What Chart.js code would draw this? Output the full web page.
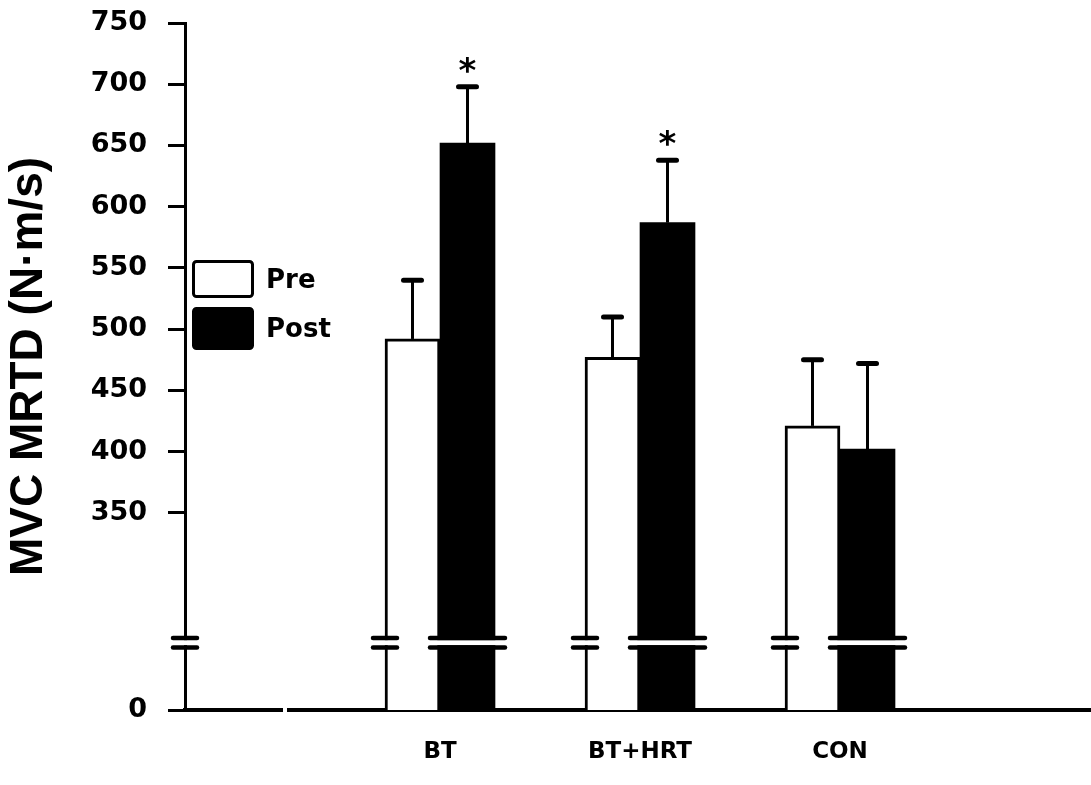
<!DOCTYPE html>
<html>
<head>
<meta charset="utf-8">
<script src="https://cdn.jsdelivr.net/npm/chart.js@4.4.1/dist/chart.umd.min.js"></script>
<style>
  html, body { margin: 0; padding: 0; background: #fff; }
  #wrap { width: 1091px; height: 785px; }
</style>
</head>
<body>
<div id="wrap"><canvas id="chart"></canvas></div>
<script>
const groups = ['BT', 'BT+HRT', 'CON'];
const preMean = [492, 477, 421];
const preSE = [48, 33, 54];
const postMean = [652, 587, 402];
const postSE = [46, 51, 70];
const postMark = ['*', '*', ''];
const yTicks = [0, 350, 400, 450, 500, 550, 600, 650, 700, 750];

// broken axis: everything below 350 is squeezed into a short segment
const AXIS_FLOOR = 189;
const BREAK_AT = 244;
function toAxis(v) {
  return v >= 350 ? v : AXIS_FLOOR + v * (350 - AXIS_FLOOR) / 350;
}

Chart.defaults.font.family = 'DejaVu Sans';
Chart.defaults.font.weight = 'bold';
Chart.defaults.color = '#000';

const extras = {
  id: 'extras',
  afterDatasetsDraw(chart) {
    const { ctx, scales: { x, y } } = chart;
    ctx.save();
    ctx.strokeStyle = '#000';

    // error bars (upper only) and significance marks
    [[0, preSE], [1, postSE]].forEach(([di, se]) => {
      chart.getDatasetMeta(di).data.forEach((bar, i) => {
        const mean = chart.data.datasets[di].data[i].y[1];
        const top = y.getPixelForValue(mean + se[i]);
        ctx.lineCap = 'butt';
        ctx.lineWidth = 3;
        ctx.beginPath();
        ctx.moveTo(bar.x, bar.y);
        ctx.lineTo(bar.x, top);
        ctx.stroke();
        ctx.lineCap = 'round';
        ctx.lineWidth = 5;
        ctx.beginPath();
        ctx.moveTo(bar.x - 9, top);
        ctx.lineTo(bar.x + 9, top);
        ctx.stroke();
        if (di === 1 && postMark[i]) {
          ctx.fillStyle = '#000';
          ctx.font = 'bold 34px "DejaVu Sans"';
          ctx.textAlign = 'center';
          ctx.textBaseline = 'alphabetic';
          ctx.fillText(postMark[i], bar.x, top - 5);
        }
      });
    });

    // break marks
    const by = y.getPixelForValue(BREAK_AT);
    const pair = (x0, x1) => {
      ctx.fillStyle = '#fff';
      ctx.fillRect(x0, by - 2.5, x1 - x0, 5);
      ctx.lineCap = 'round';
      ctx.lineWidth = 4.5;
      [-4.75, 4.75].forEach(d => {
        ctx.beginPath();
        ctx.moveTo(x0, by + d);
        ctx.lineTo(x1, by + d);
        ctx.stroke();
      });
    };
    pair(x.left - 12, x.left + 12);
    chart.getDatasetMeta(0).data.forEach(b => {
      const l = b.x - b.width / 2;
      pair(l - 12, l + 12);
    });
    chart.getDatasetMeta(1).data.forEach(b => {
      pair(b.x - b.width / 2 - 10, b.x + b.width / 2 + 10);
    });
    ctx.restore();
  },
  afterDraw(chart) {
    const { ctx, scales: { x } } = chart;
    ctx.save();
    // small gap in the x axis line
    const gx = x.getPixelForValue(0.225);
    ctx.fillStyle = '#fff';
    ctx.fillRect(gx - 2, x.top - 5, 4, 10);

    // legend
    const lx = 192, ly = 260;
    chart.data.datasets.forEach((ds, i) => {
      const top = ly + i * 47;
      ctx.beginPath();
      ctx.roundRect(lx + 1.5, top + 1.5, 59, i ? 40 : 35, 3);
      ctx.fillStyle = ds.backgroundColor;
      ctx.fill();
      ctx.lineWidth = 3;
      ctx.strokeStyle = '#000';
      ctx.stroke();
      ctx.fillStyle = '#000';
      ctx.font = 'bold 26px "DejaVu Sans"';
      ctx.textAlign = 'left';
      ctx.textBaseline = 'middle';
      ctx.fillText(ds.label, lx + 74, top + (i ? 23 : 21));
    });
    ctx.restore();
  }
};

new Chart(document.getElementById('chart'), {
  type: 'bar',
  data: {
    datasets: [
      {
        label: 'Pre',
        data: groups.map((g, i) => ({ x: i + 1, y: [toAxis(0), preMean[i]] })),
        backgroundColor: '#fff',
        borderColor: '#000',
        borderWidth: 3,
        borderSkipped: 'start'
      },
      {
        label: 'Post',
        data: groups.map((g, i) => ({ x: i + 1, y: [toAxis(0), postMean[i]] })),
        backgroundColor: '#000',
        borderColor: '#000',
        borderWidth: 0
      }
    ]
  },
  options: {
    responsive: true,
    maintainAspectRatio: false,
    animation: false,
    barThickness: 55,
    layout: { padding: { top: 23, right: 0, bottom: 0, left: 0 } },
    plugins: { legend: { display: false }, tooltip: { enabled: false } },
    scales: {
      x: {
        type: 'linear',
        min: -0.275,
        max: 4.255,
        offset: false,
        z: 1,
        afterBuildTicks: s => { s.ticks = groups.map((g, i) => ({ value: i + 1 })); },
        afterFit: s => { s.height = 75; },
        ticks: {
          callback: v => groups[v - 1] || '',
          font: { size: 23, weight: 'bold' },
          padding: 28,
          autoSkip: false,
          maxRotation: 0
        },
        grid: { display: false, drawTicks: false },
        border: { display: true, color: '#000', width: 4 }
      },
      y: {
        min: AXIS_FLOOR,
        max: 750,
        afterBuildTicks: s => { s.ticks = yTicks.map(v => ({ value: toAxis(v) })); },
        afterFit: s => { s.width = 185; s.paddingTop = 0; s.paddingBottom = 0; },
        ticks: {
          callback: (v, i) => yTicks[i],
          font: { size: 27, weight: 'bold' },
          padding: 21
        },
        grid: { display: true, drawOnChartArea: false, drawTicks: true, tickLength: 17, color: '#000', lineWidth: 3 },
        border: { display: true, color: '#000', width: 3 },
        title: {
          display: true,
          text: 'MVC MRTD (N·m/s)',
          font: { family: 'Liberation Sans', size: 46, weight: 'bold' },
          padding: { top: 2, bottom: 0 }
        }
      }
    }
  },
  plugins: [extras]
});
</script>
</body>
</html>
